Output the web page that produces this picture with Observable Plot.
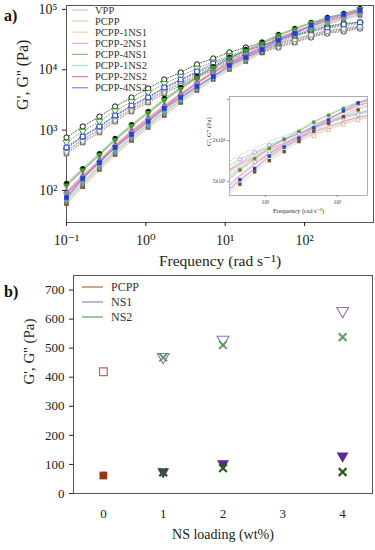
<!DOCTYPE html>
<html><head><meta charset="utf-8">
<script src="https://cdn.jsdelivr.net/npm/d3@7"></script>
<script src="https://cdn.jsdelivr.net/npm/@observablehq/plot@0.6"></script>
<style>
body{margin:0;background:#fff;}
#wrap{position:relative;width:375px;height:550px;overflow:hidden;font-family:"Liberation Serif",serif;}
#wrap svg{display:block;}
.abs{position:absolute;}
</style></head><body><div id="wrap"></div>
<script>
// ---------- DATA (panel a) ----------
const freq = [0.1, 0.16, 0.26, 0.41, 0.66, 1.07, 1.71, 2.75, 4.41, 7.07, 11.3, 18.2, 29.2, 46.9, 75.3, 121, 194, 312, 500];
const seriesNames = ["VPP","PCPP","PCPP-1NS1","PCPP-2NS1","PCPP-4NS1","PCPP-1NS2","PCPP-2NS2","PCPP-4NS2"];
// storage modulus G' (Pa)
const gpVPP  = [131, 231, 410, 728, 1240, 2040, 3350, 5100, 7750, 11300, 16000, 21700, 28400, 38500, 48400, 60900, 73700, 85900, 104000];
const gpPCPP = [60.8, 116, 223, 395, 675, 1110, 1750, 2870, 4540, 6910, 10100, 13700, 19400, 27300, 35600, 44800, 56300, 68200, 79600];
const gp1NS1 = [73.6, 138, 259, 460, 785, 1290, 2060, 3310, 5190, 7830, 11300, 15400, 21300, 29800, 38500, 48400, 60300, 72300, 85100];
const gp2NS1 = [96, 176, 321, 570, 973, 1600, 2580, 4050, 6250, 9310, 13300, 18100, 24400, 33600, 42800, 54000, 66200, 78300, 93500];
const gp4NS1 = [121, 216, 386, 685, 1170, 1920, 3140, 4810, 7350, 10800, 15300, 20700, 27300, 37200, 47000, 59200, 71600, 83900, 101000];
const gp1NS2 = [68, 129, 244, 434, 740, 1210, 1930, 3130, 4920, 7450, 10800, 14700, 20500, 28800, 37300, 47000, 58600, 70600, 82800];
const gp2NS2 = [89, 164, 303, 537, 916, 1500, 2420, 3830, 5930, 8870, 12700, 17300, 23400, 32400, 41600, 52300, 64400, 76600, 91000];
const gp4NS2 = [76.6, 158, 291, 516, 848, 1390, 2290, 3480, 5290, 7750, 11800, 16000, 21700, 30600, 40000, 54300, 70900, 82600, 96200];
// loss modulus G'' (Pa)
const gppVPP  = [755, 1150, 1680, 2470, 3480, 4910, 6910, 9040, 12300, 15400, 19400, 23400, 28400, 34400, 40000, 46600, 52200, 58600, 60900];
const gppPCPP = [410, 624, 914, 1390, 2040, 2870, 4050, 5500, 7460, 9750, 12700, 16000, 19400, 23400, 28400, 34400, 40000, 43200, 48400];
const gpp1NS1 = [463, 705, 1030, 1560, 2260, 3200, 4510, 6070, 8240, 10700, 13800, 17300, 20900, 25300, 30400, 36500, 42200, 45900, 50700];
const gpp2NS1 = [524, 796, 1170, 1750, 2520, 3560, 5020, 6700, 9100, 11700, 15100, 18600, 22500, 27300, 32600, 38800, 44500, 48800, 53100];
const gpp4NS1 = [630, 957, 1400, 2080, 2960, 4180, 5890, 7780, 10600, 13400, 17100, 20900, 25300, 30600, 36100, 42500, 48200, 53500, 56900];
const gpp1NS2 = [442, 671, 984, 1490, 2170, 3060, 4330, 5830, 7930, 10300, 13400, 16700, 20300, 24500, 29600, 35600, 41300, 44800, 49800];
const gpp2NS2 = [501, 764, 1120, 1680, 2430, 3430, 4840, 6470, 8790, 11300, 14600, 18200, 22000, 26600, 31800, 38000, 43700, 47800, 52200];
const gpp4NS2 = [516, 785, 1150, 1750, 2560, 3480, 5100, 6910, 9380, 12700, 16000, 20100, 25300, 31800, 37100, 44800, 50300, 56300, 60900];
const freqTicks = [0.1, 1, 10, 100];
const freqTickLabels = ["10⁻¹", "10⁰", "10¹", "10²"];
const modTicks = [100, 1000, 10000, 100000];
const modTickLabels = ["10²", "10³", "10⁴", "10⁵"];
const insetFreqTicks = [10, 100];
const insetFreqTickLabels = ["10¹", "10²"];
const insetModTicks = [5000, 20000, 80000];
const insetModTickLabels = ["5x10³", "2x10⁴", "8x10⁴"];

// ---------- DATA (panel b) ----------
const pcppLoading = [0], pcppGp = [62], pcppGpp = [419];
const ns1Loading = [1, 2, 4], ns1Gp = [75, 103, 129], ns1Gpp = [470, 529, 628];
const ns2Loading = [1, 2, 4], ns2Gp = [73, 87, 74], ns2Gpp = [468, 511, 538];
const loadingTicks = [0, 1, 2, 3, 4];
const loadingTickLabels = ["0", "1", "2", "3", "4"];
const bTicks = [0, 100, 200, 300, 400, 500, 600, 700];
const bLegend = ["PCPP", "NS1", "NS2"];

// ---------- STYLES ----------
const lineColor = ["#c3cedb","#f3cdb8","#f0d6a8","#eeaad0","#8cc67a","#a9dbe6","#ec7f98","#8f8fe0"];
const markColor = ["#111111","#8b4526","#857c5c","#8a52c0","#3f9a2c","#5ea5ad","#8f8f8f","#1f3fd8"];
const markSym   = ["circle","square","square","triangle","triangle","diamond","square","square"];
const markRot   = [0,0,0,0,180,0,0,0];
const bColors   = ["#b8745a","#a98bbd","#6fa574"];

const gpSets  = [gpVPP, gpPCPP, gp1NS1, gp2NS1, gp4NS1, gp1NS2, gp2NS2, gp4NS2];
const gppSets = [gppVPP, gppPCPP, gpp1NS1, gpp2NS1, gpp4NS1, gpp1NS2, gpp2NS2, gpp4NS2];
const rows = [];
seriesNames.forEach((s, i) => freq.forEach((f, k) => rows.push({s, i, k, f, gp: gpSets[i][k], gpp: gppSets[i][k]})));

const font = "'Liberation Serif', 'DejaVu Serif', serif";
const wrap = document.getElementById("wrap");

// ---------- PANEL A ----------
const marksA = [Plot.frame({stroke: "#555", strokeWidth: 1})];
seriesNames.forEach((s, i) => {
  const d = rows.filter(r => r.i === i);
  marksA.push(Plot.line(d, {x: "f", y: "gpp", stroke: markColor[i], strokeOpacity: 0.7, strokeWidth: 1, strokeDasharray: "1,1.8"}));
  marksA.push(Plot.line(d, {x: "f", y: "gp", stroke: lineColor[i], strokeWidth: 1.4}));
});
seriesNames.forEach((s, i) => {
  const d = rows.filter(r => r.i === i);
  marksA.push(Plot.dot(d, {x: "f", y: "gpp", symbol: markSym[i], rotate: markRot[i], r: 2.6, stroke: markColor[i], fill: "white", strokeWidth: 1}));
});
seriesNames.forEach((s, i) => {
  const d = rows.filter(r => r.i === i);
  marksA.push(Plot.dot(d, {x: "f", y: "gp", symbol: markSym[i], rotate: markRot[i], r: 2.6, fill: markColor[i], stroke: "none"}));
});
marksA.push(
  Plot.axisX({ticks: freqTicks, tickFormat: d => freqTickLabels[freqTicks.indexOf(d)], tickSize: 4, tickPadding: 9, fontSize: 14, label: null}),
  Plot.axisY({ticks: modTicks, tickFormat: d => modTickLabels[modTicks.indexOf(d)], tickSize: 4, tickPadding: 5, fontSize: 14, label: null}),
  Plot.text(["Frequency (rad s⁻¹)"], {frameAnchor: "bottom", dy: 43, fontSize: 15.5, fill: "#222"}),
  Plot.text(["G', G'' (Pa)"], {frameAnchor: "left", dx: -44, dy: -4, rotate: -90, fontSize: 16, fill: "#222"})
);
const plotA = Plot.plot({
  width: 375, height: 272,
  marginLeft: 66, marginRight: 2, marginTop: 5, marginBottom: 50,
  style: {fontFamily: font, color: "#222", background: "white"},
  x: {type: "log", domain: [0.1, 740]},
  y: {type: "log", domain: [29.5, 116000]},
  marks: marksA
});
wrap.appendChild(plotA);

// ---------- INSET ----------
const insetRows = rows.filter(r => r.k >= 8 && r.k <= 16);
const lineRows = rows.filter(r => r.k >= 7 && r.k <= 17);
const marksI = [Plot.frame({fill: "white", stroke: "#9a9a9a", strokeWidth: 0.8})];
seriesNames.forEach((s, i) => {
  const d = lineRows.filter(r => r.i === i);
  marksI.push(Plot.line(d, {x: "f", y: "gp", stroke: lineColor[i], strokeWidth: 0.8, clip: true}));
  marksI.push(Plot.line(d, {x: "f", y: "gpp", stroke: lineColor[i], strokeWidth: 0.8, strokeOpacity: 0.8, clip: true}));
});
const insetOpen = [[1, "square", "#c9a078"], [4, "circle", "#8c80d0"]];
insetOpen.forEach(([i, sym, c]) => marksI.push(Plot.dot(insetRows.filter(r => r.i === i), {x: "f", y: "gpp", symbol: sym, r: 1.9, stroke: c, fill: "white", strokeWidth: 0.7})));
const insetFilled = [[4, "circle", "#4f9a3a"], [7, "square", "#1f3fd8"], [1, "square", "#7a4a22"]];
insetFilled.forEach(([i, sym, c]) => marksI.push(Plot.dot(insetRows.filter(r => r.i === i), {x: "f", y: "gp", symbol: sym, r: 1.9, fill: c, stroke: "none"})));
marksI.push(
  Plot.axisX({ticks: insetFreqTicks, tickFormat: d => insetFreqTickLabels[insetFreqTicks.indexOf(d)], tickSize: 2, tickPadding: 2, fontSize: 6, label: null, stroke: "#999"}),
  Plot.axisY({ticks: insetModTicks, tickFormat: d => insetModTickLabels[insetModTicks.indexOf(d)], tickSize: 2, tickPadding: 2, fontSize: 5.5, label: null, stroke: "#999"}),
  Plot.text(["Frequency (rad s⁻¹)"], {frameAnchor: "bottom", dy: 17, fontSize: 6.5, fill: "#333"}),
  Plot.text(["G', G'' (Pa)"], {frameAnchor: "left", dx: -21, rotate: -90, fontSize: 6.5, fill: "#333"})
);
const plotI = Plot.plot({
  width: 168, height: 125,
  marginLeft: 29, marginRight: 1, marginTop: 4, marginBottom: 22,
  style: {fontFamily: font, color: "#444", background: "transparent"},
  x: {type: "log", domain: [3.16, 262]},
  y: {type: "log", domain: [3100, 88700]},
  marks: marksI
});
plotI.classList.add("abs");
plotI.style.left = "200px"; plotI.style.top = "92px";
wrap.appendChild(plotI);

// ---------- PANEL B ----------
const bRow = (xs, gps, gpps) => xs.map((x, j) => ({x, gp: gps[j], gpp: gpps[j]}));
const pcppRows = bRow(pcppLoading, pcppGp, pcppGpp);
const ns1Rows = bRow(ns1Loading, ns1Gp, ns1Gpp);
const ns2Rows = bRow(ns2Loading, ns2Gp, ns2Gpp);
const plotB = Plot.plot({
  width: 375, height: 278,
  marginLeft: 73, marginRight: 3, marginTop: 3, marginBottom: 57,
  style: {fontFamily: font, color: "#222", background: "white"},
  x: {domain: [-0.5, 4.5]},
  y: {domain: [0, 750]},
  marks: [
    Plot.frame({stroke: "#555", strokeWidth: 1}),
    Plot.axisX({ticks: loadingTicks, tickFormat: d => loadingTickLabels[loadingTicks.indexOf(d)], tickSize: 0, tickPadding: 15, fontSize: 13, label: null}),
    Plot.axisY({ticks: bTicks, tickSize: 4, tickPadding: 5, fontSize: 13, label: null}),
    Plot.dot(pcppRows, {x: "x", y: "gpp", symbol: "square", r: 4.4, stroke: "#c0674c", fill: "none", strokeWidth: 1.2}),
    Plot.dot(pcppRows, {x: "x", y: "gp", symbol: "square", r: 4.4, fill: "#9a3312", stroke: "none"}),
    Plot.dot(ns1Rows, {x: "x", y: "gpp", symbol: "triangle", rotate: 180, r: 4.4, stroke: "#9072b2", fill: "none", strokeWidth: 1.1}),
    Plot.dot(ns1Rows, {x: "x", y: "gp", symbol: "triangle", rotate: 180, r: 4.4, fill: "#5a2a8e", stroke: "none"}),
    Plot.dot(ns2Rows, {x: "x", y: "gpp", symbol: "times", r: 3.6, stroke: "#5e9a5e", strokeWidth: 2}),
    Plot.dot(ns2Rows, {x: "x", y: "gp", symbol: "times", r: 3.6, stroke: "#2e5a1e", strokeWidth: 2.2}),
    Plot.text(["NS loading (wt%)"], {frameAnchor: "bottom", dy: 45, fontSize: 14, fill: "#222"}),
    Plot.text(["G', G'' (Pa)"], {frameAnchor: "left", dx: -44, rotate: -90, fontSize: 15, fill: "#222"})
  ]
});
wrap.appendChild(plotB);

// ---------- LEGENDS & PANEL LETTERS ----------
const ov = d3.select(wrap).append("svg").attr("class", "abs")
  .style("left", "0px").style("top", "0px").attr("width", 375).attr("height", 550)
  .style("pointer-events", "none").style("font-family", font);
seriesNames.forEach((s, i) => {
  const y = 10 + i * 11.1;
  ov.append("line").attr("x1", 72).attr("x2", 88).attr("y1", y).attr("y2", y).attr("stroke", lineColor[i]).attr("stroke-width", 1.3);
  ov.append("text").attr("x", 95).attr("y", y).attr("dy", "0.35em").attr("font-size", 10.5).attr("fill", "#333").text(s);
});
bLegend.forEach((s, i) => {
  const y = 287 + i * 15;
  ov.append("line").attr("x1", 82).attr("x2", 103).attr("y1", y).attr("y2", y).attr("stroke", bColors[i]).attr("stroke-width", 1.3);
  ov.append("text").attr("x", 111).attr("y", y).attr("dy", "0.35em").attr("font-size", 12).attr("fill", "#333").text(s);
});
ov.append("text").attr("x", 4).attr("y", 15).attr("dy", "0.35em").attr("font-size", 16).attr("font-weight", "bold").attr("fill", "#111").text("a)");
ov.append("text").attr("x", 4).attr("y", 291).attr("dy", "0.35em").attr("font-size", 16).attr("font-weight", "bold").attr("fill", "#111").text("b)");
</script></body></html>
